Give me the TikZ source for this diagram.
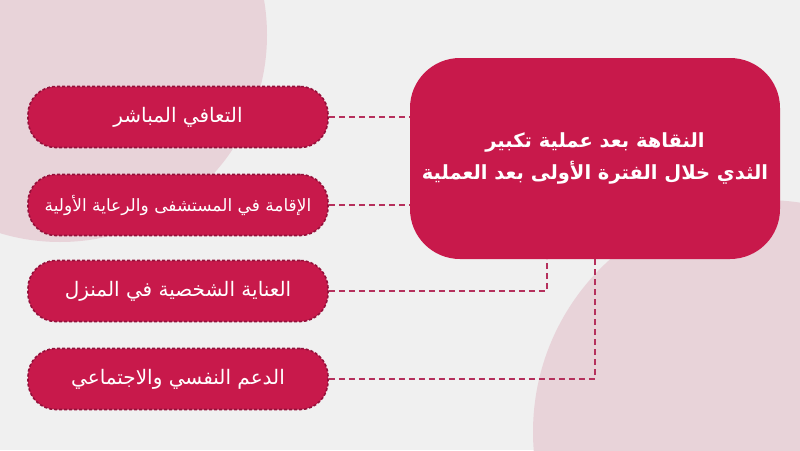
\documentclass[tikz,border=0pt]{standalone}
\usepackage{fontspec}
\newfontfamily\arabicfont[Script=Arabic]{DejaVu Sans}
\TeXXeTstate=1
\definecolor{bgcol}{HTML}{F0F0F0}
\definecolor{blob}{HTML}{E8D3D9}
\definecolor{crim}{HTML}{C8194B}
\definecolor{crimdark}{HTML}{94103A}
\definecolor{linkcol}{HTML}{B5305C}
\tikzset{
  pill/.style={rectangle, rounded corners=28pt, minimum width=300pt, minimum height=61pt,
    fill=crim, draw=crimdark, line width=1.6pt, dash pattern=on 3pt off 2pt,
    text=white, font=\arabicfont\fontsize{20}{24}\selectfont},
  mainbox/.style={rectangle, rounded corners=50pt, minimum width=370pt, minimum height=201pt,
    fill=crim, text=white, align=center, font=\arabicfont\bfseries\fontsize{19.5}{32}\selectfont},
  link/.style={draw=linkcol, line width=1.6pt, dash pattern=on 6pt off 4pt}
}
\begin{document}
\begin{tikzpicture}[x=1pt,y=-1pt]
            % background and soft circles
            \fill[bgcol] (0,0) rectangle (800,450);
            \begin{scope}
              \clip (0,0) rectangle (800,450);
              \fill[blob] (60,35) circle (207);
              \fill[blob] (765,432) circle (232);
            \end{scope}
            \useasboundingbox (0,0) rectangle (800,450);

            \node[mainbox] (main) at (595,158.5) {\beginR النقاهة بعد عملية تكبير\endR\\\beginR الثدي خلال الفترة الأولى بعد العملية\endR};

            \node[pill] (p1) at (178,117) {\beginR التعافي المباشر\endR};
            \node[pill, font=\arabicfont\fontsize{17}{20}\selectfont] (p2) at (178,205) {\beginR الإقامة في المستشفى والرعاية الأولية\endR};
            \node[pill] (p3) at (178,291) {\beginR العناية الشخصية في المنزل\endR};
            \node[pill] (p4) at (178,379) {\beginR الدعم النفسي والاجتماعي\endR};

            \draw[link] (p1.east) -- (main.west |- p1.east)
                        (p2.east) -- (main.west |- p2.east)
                        (p3.east) -| ([xshift=-48pt]main.south)
                        (p4.east) -| (main.south);
        \end{tikzpicture}
\end{document}
